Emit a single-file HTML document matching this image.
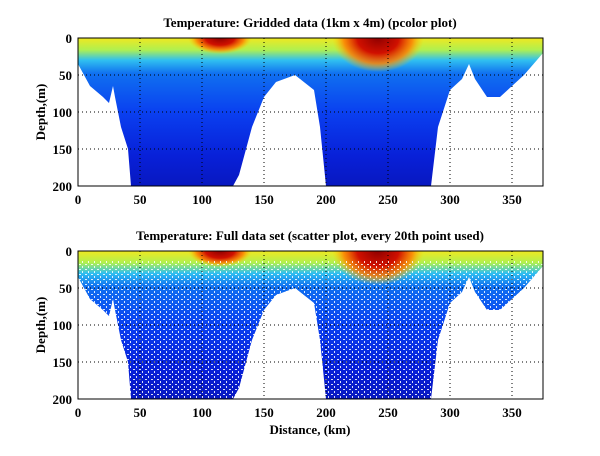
<!DOCTYPE html>
<html><head><style>
body{margin:0;background:#fff}
svg text{font-family:"Liberation Serif",serif;font-weight:bold;fill:#000}
</style></head><body>
<svg width="600" height="451" xmlns="http://www.w3.org/2000/svg">
<defs>
<linearGradient id="g" x1="0" y1="0" x2="0" y2="1">
<stop offset="0" stop-color="#f0e820"/>
<stop offset="0.08" stop-color="#b0f050"/>
<stop offset="0.15" stop-color="#30c0f0"/>
<stop offset="0.24" stop-color="#1070f0"/>
<stop offset="0.5" stop-color="#0a40f0"/>
<stop offset="0.8" stop-color="#0820d8"/>
<stop offset="1" stop-color="#0818c0"/>
</linearGradient>
<radialGradient id="r" cx="0.5" cy="0.5" r="0.5">
<stop offset="0" stop-color="#900000"/>
<stop offset="0.45" stop-color="#d01000"/>
<stop offset="0.75" stop-color="#ff8000" stop-opacity="0.85"/>
<stop offset="1" stop-color="#ffd000" stop-opacity="0"/>
</radialGradient>
<pattern id="dots" width="6" height="5" patternUnits="userSpaceOnUse">
<rect x="1" y="1" width="2" height="1" fill="#fff"/>
<rect x="4" y="3" width="1" height="2" fill="#fff"/>
</pattern>
<clipPath id="ax"><rect x="78" y="38" width="465" height="148"/></clipPath>
<g id="shape">
<g clip-path="url(#ax)">
<polygon points="78,38 78,64 84,75 90,86 103,97 109,103 113,86 115,97 121,127 128,149 131,186 233,186 239,175 252,127 264,97 276,82 295,75 314,90 320,127 326,186 431,186 438,127 450,90 462,79 469,64 475,79 487,97 500,97 512,86 524,75 537,60 543,53 543,38" fill="url(#g)"/>
<ellipse cx="220" cy="38" rx="32" ry="16" fill="url(#r)"/>
<ellipse cx="378" cy="38" rx="46" ry="34" fill="url(#r)"/>
</g>
</g>
</defs>
<use href="#shape"/>
<g stroke="#000" stroke-dasharray="1,3" stroke-width="1">
<line x1="78" y1="75" x2="543" y2="75"/><line x1="78" y1="112" x2="543" y2="112"/><line x1="78" y1="149" x2="543" y2="149"/>
<line x1="140" y1="38" x2="140" y2="186"/><line x1="202" y1="38" x2="202" y2="186"/><line x1="264" y1="38" x2="264" y2="186"/><line x1="326" y1="38" x2="326" y2="186"/><line x1="388" y1="38" x2="388" y2="186"/><line x1="450" y1="38" x2="450" y2="186"/><line x1="512" y1="38" x2="512" y2="186"/>
</g>
<rect x="78" y="38" width="465" height="148" fill="none" stroke="#000"/>
<text x="310" y="27" font-size="13" text-anchor="middle">Temperature: Gridded data (1km x 4m) (pcolor plot)</text>
<g font-size="13" text-anchor="end"><text x="72" y="43">0</text><text x="72" y="80">50</text><text x="72" y="117">100</text><text x="72" y="154">150</text><text x="72" y="191">200</text></g>
<g font-size="13" text-anchor="middle"><text x="78" y="204">0</text><text x="140" y="204">50</text><text x="202" y="204">100</text><text x="264" y="204">150</text><text x="326" y="204">200</text><text x="388" y="204">250</text><text x="450" y="204">300</text><text x="512" y="204">350</text></g>
<text transform="translate(45,112) rotate(-90)" font-size="13" text-anchor="middle">Depth,(m)</text>
<g transform="translate(0,213)">
<use href="#shape"/>
<rect x="78" y="48" width="465" height="138" fill="url(#dots)" opacity="0.85"/>
<g stroke="#000" stroke-dasharray="1,3" stroke-width="1">
<line x1="78" y1="75" x2="543" y2="75"/><line x1="78" y1="112" x2="543" y2="112"/><line x1="78" y1="149" x2="543" y2="149"/>
<line x1="140" y1="38" x2="140" y2="186"/><line x1="202" y1="38" x2="202" y2="186"/><line x1="264" y1="38" x2="264" y2="186"/><line x1="326" y1="38" x2="326" y2="186"/><line x1="388" y1="38" x2="388" y2="186"/><line x1="450" y1="38" x2="450" y2="186"/><line x1="512" y1="38" x2="512" y2="186"/>
</g>
<rect x="78" y="38" width="465" height="148" fill="none" stroke="#000"/>
<text x="310" y="27" font-size="13" text-anchor="middle">Temperature: Full data set (scatter plot, every 20th point used)</text>
<g font-size="13" text-anchor="end"><text x="72" y="43">0</text><text x="72" y="80">50</text><text x="72" y="117">100</text><text x="72" y="154">150</text><text x="72" y="191">200</text></g>
<g font-size="13" text-anchor="middle"><text x="78" y="204">0</text><text x="140" y="204">50</text><text x="202" y="204">100</text><text x="264" y="204">150</text><text x="326" y="204">200</text><text x="388" y="204">250</text><text x="450" y="204">300</text><text x="512" y="204">350</text></g>
<text transform="translate(45,112) rotate(-90)" font-size="13" text-anchor="middle">Depth,(m)</text>
<text x="310" y="221" font-size="13" text-anchor="middle">Distance, (km)</text>
</g>
</svg>
</body></html>
